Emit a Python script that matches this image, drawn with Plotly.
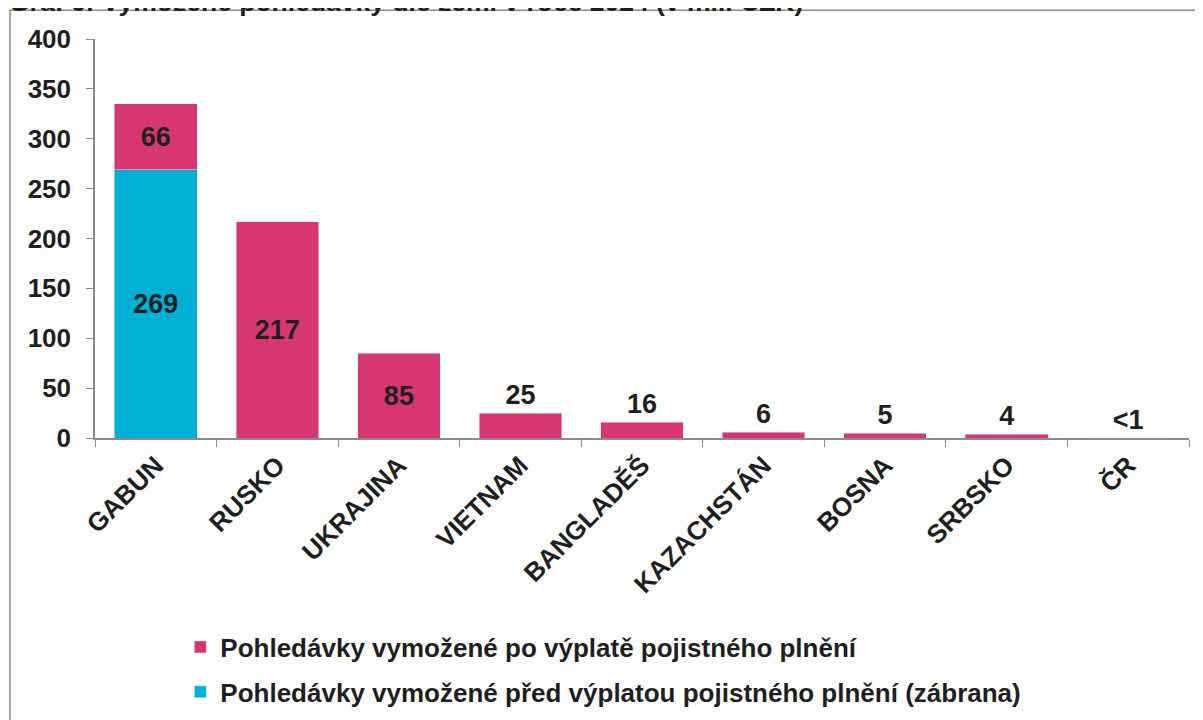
import plotly.graph_objects as go

countries = ["GABUN", "RUSKO", "UKRAJINA", "VIETNAM", "BANGLADĚŠ",
             "KAZACHSTÁN", "BOSNA", "SRBSKO", "ČR"]
after_payout = [66, 217, 85, 25, 16, 6, 5, 4, 0.4]
after_labels = ["66", "217", "85", "25", "16", "6", "5", "4", "<1"]
before_payout = [269, 0, 0, 0, 0, 0, 0, 0, 0]
before_labels = ["269", "", "", "", "", "", "", "", ""]

PINK = "#D73771"
CYAN = "#00AFD4"
FONT = "Liberation Sans, Arial, sans-serif"
DARK = "#1f1f1f"
GREY = "#8c8c8c"

fig = go.Figure()

fig.add_trace(go.Bar(
    x=countries,
    y=before_payout,
    text=before_labels,
    texttemplate="<b>%{text}</b>",
    textposition="inside",
    insidetextanchor="middle",
    textfont=dict(family=FONT, size=27, color=DARK),
    marker_color=CYAN,
    legendgroup="b",
    legendrank=2,
    name="<b>Pohledávky vymožené před výplatou pojistného plnění (zábrana)</b>",
))
fig.add_trace(go.Bar(
    x=countries,
    y=after_payout,
    text=after_labels,
    texttemplate="<b>%{text}</b>",
    textposition=["inside", "inside", "inside"] + ["outside"] * 6,
    insidetextanchor="middle",
    textfont=dict(family=FONT, size=27, color=DARK),
    outsidetextfont=dict(family=FONT, size=27, color=DARK),
    constraintext="none",
    cliponaxis=False,
    marker_color=PINK,
    legendgroup="a",
    legendrank=1,
    name="<b>Pohledávky vymožené po výplatě pojistného plnění</b>",
))

# outer frame
fig.add_shape(type="rect", xref="paper", yref="paper",
              x0=-0.0777, x1=1.03, y0=-1.0, y1=1.0723,
              line=dict(color=GREY, width=1.5), layer="below")

# title, cut off at the top edge as in the source
fig.add_annotation(
    text="<b>Graf 6: Vymožené pohledávky dle zemí v roce 2024 (v mil. CZK)</b>",
    xref="paper", yref="paper", x=-0.080, y=1.092,
    xanchor="left", yanchor="middle", showarrow=False,
    font=dict(family=FONT, size=26.5, color=DARK),
)

fig.update_layout(
    barmode="stack",
    bargap=0.32,
    width=1203,
    height=720,
    margin=dict(l=87, r=22, t=31, b=288),
    plot_bgcolor="white",
    paper_bgcolor="white",
    font=dict(family=FONT, color=DARK),
    showlegend=True,
    legend=dict(
        traceorder="grouped",
        orientation="v",
        x=0.078, y=-0.465,
        xanchor="left", yanchor="top",
        font=dict(family=FONT, size=26, color=DARK),
        tracegroupgap=8,
    ),
)

fig.update_xaxes(
    showline=True, linecolor=GREY, linewidth=1.5,
    ticks="outside", tickson="boundaries", ticklen=7, tickcolor=GREY,
    tickangle=-45,
    tickfont=dict(family=FONT, size=26, color=DARK),
    tickprefix="<b>", ticksuffix="</b>",
    showgrid=False,
)
fig.update_yaxes(
    range=[0, 400], dtick=50,
    showline=True, linecolor=GREY, linewidth=1.5,
    ticks="outside", ticklen=7, tickcolor=GREY,
    tickfont=dict(family=FONT, size=26, color=DARK),
    tickprefix="<b>", ticksuffix="</b>",
    ticklabelstandoff=10,
    showgrid=False, zeroline=False,
)

fig.write_html("out.html")
